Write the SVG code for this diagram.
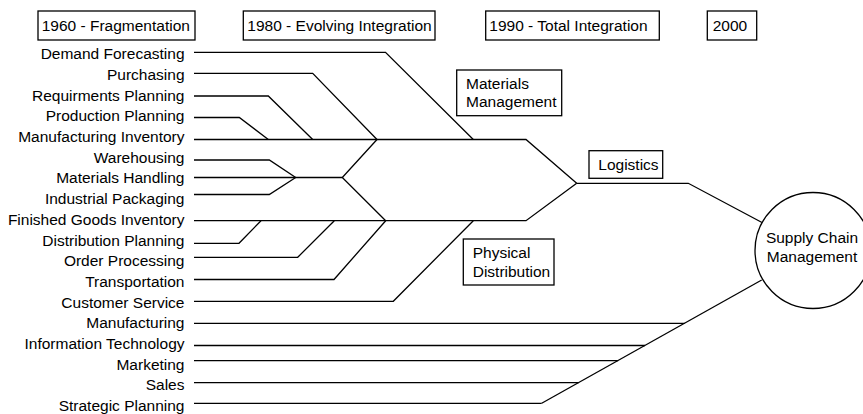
<svg xmlns="http://www.w3.org/2000/svg" width="863" height="414" viewBox="0 0 863 414">
  <style>
    text { font-family: "Liberation Sans", Arial, Helvetica, sans-serif; font-size: 15.5px; fill: #000; }
    .lbl { text-anchor: end; }
    .box { fill: #fff; stroke: #000; stroke-width: 1.3; }
    .wire { fill: none; stroke: #000; stroke-width: 1.3; stroke-linejoin: miter; }
  </style>
  <rect width="863" height="414" fill="#fff"/>

  <!-- era headings -->
  <g id="era-1960"><rect class="box" x="38" y="11" width="157" height="29"/><text x="41.7" y="31.2">1960 - Fragmentation</text></g>
  <g id="era-1980"><rect class="box" x="243.3" y="11" width="191.7" height="29"/><text x="247.3" y="31.2">1980 - Evolving Integration</text></g>
  <g id="era-1990"><rect class="box" x="485.7" y="11" width="173.6" height="29"/><text x="489.3" y="31.2">1990 - Total Integration</text></g>
  <g id="era-2000"><rect class="box" x="707.3" y="11" width="49.4" height="29"/><text x="712.7" y="31.2">2000</text></g>

  <!-- activity labels -->
  <g id="activities">
    <text class="lbl" x="184.5" y="59.2">Demand Forecasting</text>
    <text class="lbl" x="184.5" y="79.9">Purchasing</text>
    <text class="lbl" x="184.5" y="100.6">Requirments Planning</text>
    <text class="lbl" x="184.5" y="121.3">Production Planning</text>
    <text class="lbl" x="184.5" y="142">Manufacturing Inventory</text>
    <text class="lbl" x="184.5" y="162.7">Warehousing</text>
    <text class="lbl" x="184.5" y="183.4">Materials Handling</text>
    <text class="lbl" x="184.5" y="204.1">Industrial Packaging</text>
    <text class="lbl" x="184.5" y="224.8">Finished Goods Inventory</text>
    <text class="lbl" x="184.5" y="245.5">Distribution Planning</text>
    <text class="lbl" x="184.5" y="266.2">Order Processing</text>
    <text class="lbl" x="184.5" y="286.9">Transportation</text>
    <text class="lbl" x="184.5" y="307.6">Customer Service</text>
    <text class="lbl" x="184.5" y="328.3">Manufacturing</text>
    <text class="lbl" x="184.5" y="349">Information Technology</text>
    <text class="lbl" x="184.5" y="369.7">Marketing</text>
    <text class="lbl" x="184.5" y="390.4">Sales</text>
    <text class="lbl" x="184.5" y="411.1">Strategic Planning</text>
  </g>

  <!-- connectors -->
  <g id="connectors" class="wire">
    <!-- materials management branch -->
    <polyline class="wire" points="194,52.3 385.5,52.3 473.3,139.5"/>
    <polyline class="wire" points="194,73.3 312.7,73.3 377,139.5"/>
    <polyline class="wire" points="194,96 268.3,96 312.7,139.5"/>
    <polyline class="wire" points="194,117.5 239.3,117.5 268.3,139.5"/>
    <polyline class="wire" points="194,139.5 526,139.5 576.7,183.3"/>
    <!-- handling cluster -->
    <polyline class="wire" points="194,160 269.3,160 295.7,177.5"/>
    <polyline class="wire" points="194,194.5 269.3,194.5 295.7,177.5"/>
    <polyline class="wire" points="194,177.5 342.3,177.5"/>
    <polyline class="wire" points="377,139.5 342.3,177.5 385.7,220.7"/>
    <!-- physical distribution branch -->
    <polyline class="wire" points="194,220.7 526,220.7 576.7,183.3"/>
    <polyline class="wire" points="194,243.3 239,243.3 261,220.7"/>
    <polyline class="wire" points="194,257.3 297.7,257.3 334.3,220.7"/>
    <polyline class="wire" points="194,279.5 334,279.5 385.7,220.7"/>
    <polyline class="wire" points="194,301.3 393.3,301.3 473.3,220.7"/>
    <!-- logistics to supply chain -->
    <polyline class="wire" points="576.7,183.3 688.3,183.3 762,222.5"/>
    <!-- cross-functional links -->
    <line x1="761.7" y1="280" x2="541.7" y2="403.3"/>
    <line x1="194" y1="323.3" x2="684.6" y2="323.3"/>
    <line x1="194" y1="345.5" x2="645" y2="345.5"/>
    <line x1="194" y1="360.7" x2="618.2" y2="360.7"/>
    <line x1="194" y1="382.7" x2="578.8" y2="382.7"/>
    <line x1="194" y1="403.3" x2="541.7" y2="403.3"/>
  </g>

  <!-- stage boxes -->
  <g id="materials-management"><rect class="box" x="456.7" y="70" width="105" height="45.7"/><text x="466" y="88.8">Materials</text><text x="466" y="107.2">Management</text></g>
  <g id="logistics"><rect class="box" x="589" y="150.7" width="73.7" height="27.6"/><text x="598.3" y="169.8">Logistics</text></g>
  <g id="physical-distribution"><rect class="box" x="463.3" y="239" width="90.7" height="46"/><text x="472.7" y="258.2">Physical</text><text x="472.7" y="276.5">Distribution</text></g>

  <g id="supply-chain-management">
    <circle class="box" cx="813" cy="250.5" r="58"/>
    <text x="812" y="243" text-anchor="middle">Supply Chain</text>
    <text x="812" y="262" text-anchor="middle">Management</text>
  </g>
</svg>
